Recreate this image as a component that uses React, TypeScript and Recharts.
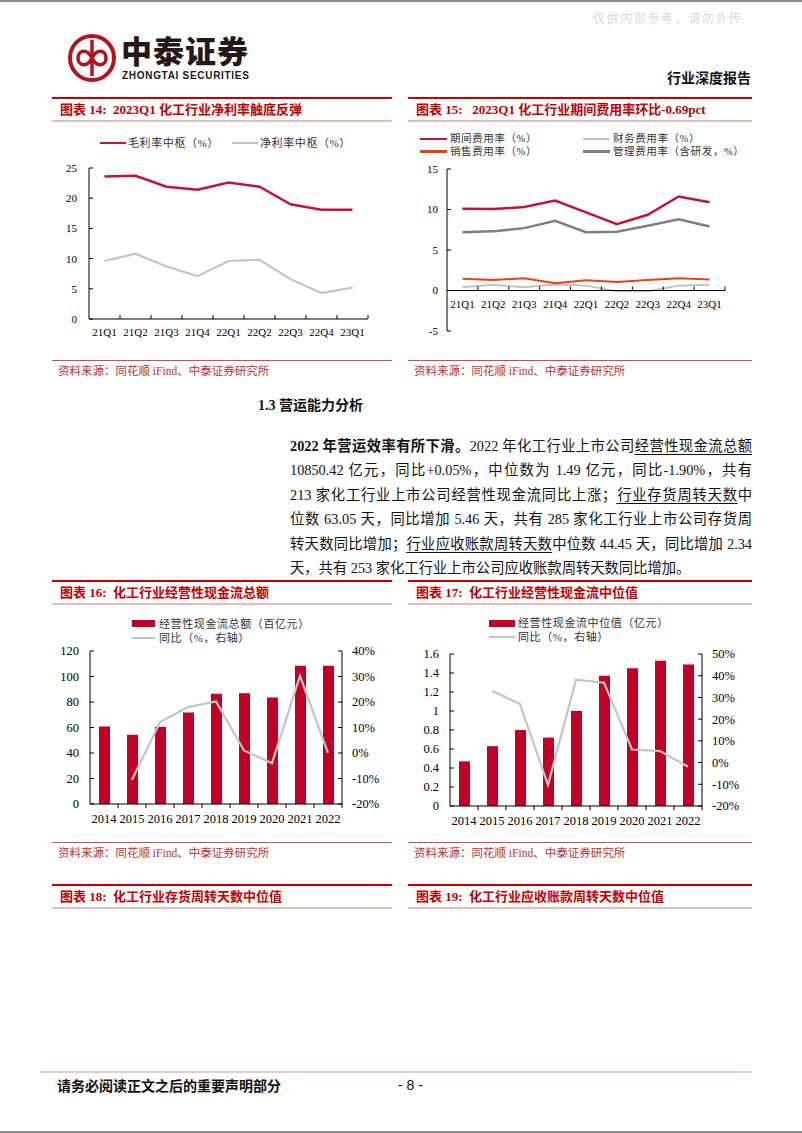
import React from 'react';
import { LineChart, Line, ComposedChart, Bar, XAxis, YAxis, ReferenceLine } from 'recharts';

// ---- data ----
const quarters = ['21Q1', '21Q2', '21Q3', '21Q4', '22Q1', '22Q2', '22Q3', '22Q4', '23Q1'];
const grossMargin = [23.6, 23.7, 21.9, 21.4, 22.6, 21.9, 19.0, 18.1, 18.1];
const netMargin = [9.6, 10.8, 8.7, 7.1, 9.6, 9.8, 6.6, 4.3, 5.2];

const periodExpense = [10.1, 10.05, 10.3, 11.1, 9.65, 8.2, 9.35, 11.6, 10.9];
const financeExpense = [0.4, 0.7, 0.4, 0.75, 0.6, -0.1, -0.1, 0.6, 0.7];
const salesExpense = [1.45, 1.3, 1.5, 0.9, 1.25, 1.05, 1.3, 1.5, 1.35];
const adminExpense = [7.2, 7.3, 7.7, 8.6, 7.2, 7.25, 8.0, 8.8, 7.9];

const years = ['2014', '2015', '2016', '2017', '2018', '2019', '2020', '2021', '2022'];
const cashTotal = [60.8, 54.3, 60.5, 71.7, 86.4, 86.9, 83.5, 108.5, 108.5];
const cashTotalYoy = [null, -10.5, 12.1, 18.0, 20.2, 1.0, -4.0, 30.2, 0.05];
const cashMedian = [0.47, 0.63, 0.8, 0.72, 1.0, 1.37, 1.45, 1.53, 1.49];
const cashMedianYoy = [null, 33.0, 27.0, -10.3, 38.2, 36.8, 6.0, 5.3, -1.9];

const ticks14 = [0, 5, 10, 15, 20, 25];
const ticks15 = [-5, 0, 5, 10, 15];
const ticks16L = [0, 20, 40, 60, 80, 100, 120];
const ticks16R = [-20, -10, 0, 10, 20, 30, 40];
const ticks17L = [0, 0.2, 0.4, 0.6, 0.8, 1, 1.2, 1.4, 1.6];
const ticks17R = [-20, -10, 0, 10, 20, 30, 40, 50];

const data14 = quarters.map((q, i) => ({ q, gross: grossMargin[i], net: netMargin[i] }));
const data15 = quarters.map((q, i) => ({
  q,
  period: periodExpense[i],
  finance: financeExpense[i],
  sales: salesExpense[i],
  admin: adminExpense[i],
}));
const data16 = years.map((y, i) => ({ y, v: cashTotal[i], yoy: cashTotalYoy[i] }));
const data17 = years.map((y, i) => ({ y, v: cashMedian[i], yoy: cashMedianYoy[i] }));

// ---- style ----
const SERIF = '"Liberation Serif", "Times New Roman", "Noto Sans CJK SC", serif';
const SANS = '"Liberation Sans", Arial, "Noto Sans CJK SC", sans-serif';
const CJK = '"Noto Sans CJK SC", sans-serif';
const RED = '#C00000';
const BAR_RED = '#C00026';
const LINE_RED = '#C0143C';
const LIGHT_GRAY = '#C4C4C4';

function BandTick(props: any) {
  const { x, y, payload, bw, lift = 0, dir, dy, fontSize } = props;
  const ay = y - lift;
  return (
    <g>
      <line x1={x + bw / 2} x2={x + bw / 2} y1={ay} y2={ay + dir * 4} stroke="#000" strokeWidth={1} />
      <text
        x={x}
        y={ay + dy}
        textAnchor="middle"
        dominantBaseline="central"
        fontSize={fontSize}
        fontFamily={SERIF}
        fill="#000"
      >
        {payload.value}
      </text>
    </g>
  );
}

function FigureHeader({ x, y, w, title }: { x: number; y: number; w: number; title: string }) {
  return (
    <>
      <div style={{ position: 'absolute', left: x, top: y - 1, width: w, height: 2, background: RED }} />
      <div
        style={{
          position: 'absolute',
          left: x + 8,
          top: y + 3,
          height: 18,
          lineHeight: '18px',
          fontSize: 13,
          fontWeight: 700,
          color: RED,
          fontFamily: SERIF,
          whiteSpace: 'pre',
        }}
      >
        {title}
      </div>
      <div style={{ position: 'absolute', left: x, top: y + 22, width: w, height: 1.5, background: '#DDBDBD' }} />
    </>
  );
}

function Source({ x, y, w }: { x: number; y: number; w: number }) {
  return (
    <>
      <div style={{ position: 'absolute', left: x, top: y, width: w, height: 1, background: '#C8505A' }} />
      <div
        style={{
          position: 'absolute',
          left: x + 6,
          top: y + 3,
          height: 16,
          lineHeight: '16px',
          fontSize: 11.5,
          color: '#B83232',
          fontFamily: SERIF,
          whiteSpace: 'pre',
        }}
      >
        资料来源：同花顺 iFind、中泰证券研究所
      </div>
    </>
  );
}

function LegendItem({
  x, y, label, color, kind, sw = 26, gap = 3, fontSize = 11,
}: {
  x: number; y: number; label: string; color: string; kind: 'line' | 'bar'; sw?: number; gap?: number; fontSize?: number;
}) {
  return (
    <div
      style={{
        position: 'absolute',
        left: x,
        top: y - 6,
        height: 12,
        lineHeight: '12px',
        display: 'flex',
        alignItems: 'center',
        whiteSpace: 'nowrap',
      }}
    >
      <span style={{ display: 'inline-block', width: sw, height: kind === 'bar' ? 7 : 2.5, background: color }} />
      <span style={{ marginLeft: gap, fontSize, letterSpacing: 0.6, fontFamily: SERIF, color: '#333', lineHeight: '12px' }}>
        {label}
      </span>
    </div>
  );
}

const para: (string | { b?: string; u?: string })[][] = [
  [{ b: '2022 年营运效率有所下滑。' }, '2022 年化工行业上市公司', { u: '经营性现金流总额' }],
  ['10850.42 亿元，同比+0.05%，中位数为 1.49 亿元，同比-1.90%，共有'],
  ['213 家化工行业上市公司经营性现金流同比上涨；', { u: '行业存货周转天数' }, '中'],
  ['位数 63.05 天，同比增加 5.46 天，共有 285 家化工行业上市公司存货周'],
  ['转天数同比增加；', { u: '行业应收账款周转天数' }, '中位数 44.45 天，同比增加 2.34'],
  ['天，共有 253 家化工行业上市公司应收账款周转天数同比增加。'],
];

// chart geometry
const P14 = { w: 340, h: 200, top: 13, right: 24, yw: 37, xh: 36 };
const bw14 = (P14.w - P14.yw - P14.right) / quarters.length;
const P15 = { w: 344, h: 200, top: 9, right: 27, yw: 39, xh: 29 };
const bw15 = (P15.w - P15.yw - P15.right) / quarters.length;
const plotH15 = P15.h - P15.top - P15.xh;
const lift15 = (plotH15 * (0 - ticks15[0])) / (ticks15[ticks15.length - 1] - ticks15[0]);
const P16 = { w: 340, h: 190, top: 6, yl: 38, yr: 50, xh: 31 };
const bw16 = (P16.w - P16.yl - P16.yr) / years.length;
const P17 = { w: 344, h: 190, top: 9, yl: 42, yr: 50, xh: 29 };
const bw17 = (P17.w - P17.yl - P17.yr) / years.length;

const axisStroke = { stroke: '#000' };

function Chart14() {
  return (
    <LineChart width={P14.w} height={P14.h} data={data14} margin={{ top: P14.top, right: P14.right, bottom: 0, left: 0 }}>
      <XAxis
        dataKey="q"
        scale="band"
        height={P14.xh}
        interval={0}
        axisLine={axisStroke}
        tickLine={false}
        tickSize={0}
        tickMargin={0}
        tick={(p: any) => <BandTick {...p} bw={bw14} dir={-1} dy={13} fontSize={11} />}
      />
      <YAxis
        domain={[0, 25]}
        ticks={ticks14}
        width={P14.yw}
        interval={0}
        axisLine={axisStroke}
        tickLine={axisStroke}
        tickSize={-4}
        tickMargin={16}
        tick={{ fill: '#000', fontSize: 11, fontFamily: SERIF }}
      />
      <Line dataKey="net" stroke={LIGHT_GRAY} strokeWidth={2.2} dot={false} isAnimationActive={false} />
      <Line dataKey="gross" stroke={LINE_RED} strokeWidth={2.5} dot={false} isAnimationActive={false} />
    </LineChart>
  );
}

function Chart15() {
  return (
    <LineChart width={P15.w} height={P15.h} data={data15} margin={{ top: P15.top, right: P15.right, bottom: 0, left: 0 }}>
      <XAxis
        dataKey="q"
        scale="band"
        height={P15.xh}
        interval={0}
        axisLine={false}
        tickLine={false}
        tickSize={0}
        tickMargin={0}
        tick={(p: any) => <BandTick {...p} bw={bw15} lift={lift15} dir={-1} dy={13} fontSize={11} />}
      />
      <YAxis
        domain={[-5, 15]}
        ticks={ticks15}
        width={P15.yw}
        interval={0}
        axisLine={axisStroke}
        tickLine={axisStroke}
        tickSize={-4}
        tickMargin={13}
        tick={{ fill: '#000', fontSize: 11, fontFamily: SERIF }}
      />
      <Line dataKey="finance" stroke={LIGHT_GRAY} strokeWidth={2} dot={false} isAnimationActive={false} />
      <Line dataKey="sales" stroke="#E8401A" strokeWidth={2} dot={false} isAnimationActive={false} />
      <Line dataKey="admin" stroke="#7F7F7F" strokeWidth={2.5} dot={false} isAnimationActive={false} />
      <Line dataKey="period" stroke={LINE_RED} strokeWidth={2.5} dot={false} isAnimationActive={false} />
      <ReferenceLine y={0} stroke="#000" strokeWidth={1} />
    </LineChart>
  );
}

function BarLineChart({
  data, P, bw, lDomain, lTicks, rDomain, rTicks,
}: {
  data: any[]; P: any; bw: number; lDomain: number[]; lTicks: number[]; rDomain: number[]; rTicks: number[];
}) {
  return (
    <ComposedChart width={P.w} height={P.h} data={data} margin={{ top: P.top, right: 0, bottom: 0, left: 0 }}>
      <XAxis
        dataKey="y"
        height={P.xh}
        interval={0}
        axisLine={axisStroke}
        tickLine={false}
        tickSize={0}
        tickMargin={0}
        tick={(p: any) => <BandTick {...p} bw={bw} dir={1} dy={15} fontSize={12.5} />}
      />
      <YAxis
        yAxisId="l"
        domain={lDomain}
        ticks={lTicks}
        width={P.yl}
        interval={0}
        axisLine={axisStroke}
        tickLine={axisStroke}
        tickSize={-4}
        tickMargin={15}
        tick={{ fill: '#000', fontSize: 12.5, fontFamily: SERIF }}
      />
      <YAxis
        yAxisId="r"
        orientation="right"
        domain={rDomain}
        ticks={rTicks}
        width={P.yr}
        interval={0}
        axisLine={axisStroke}
        tickLine={axisStroke}
        tickSize={-4}
        tickMargin={14}
        tickFormatter={(v: number) => `${v}%`}
        tick={{ fill: '#000', fontSize: 12.5, fontFamily: SERIF }}
      />
      <Bar yAxisId="l" dataKey="v" fill={BAR_RED} barSize={11} isAnimationActive={false} />
      <Line yAxisId="r" dataKey="yoy" stroke={LIGHT_GRAY} strokeWidth={2.2} dot={false} isAnimationActive={false} />
    </ComposedChart>
  );
}

function Logo() {
  return (
    <svg width={50} height={50} style={{ position: 'absolute', left: 67, top: 33 }} viewBox="0 0 50 50">
      <circle cx={25} cy={25} r={22} fill="none" stroke="#B5131C" strokeWidth={4} />
      <line x1={25} y1={7} x2={25} y2={43} stroke="#B5131C" strokeWidth={3.5} />
      <path d="M25 25 C 20 15, 11 17, 11 25 C 11 33, 20 35, 25 25 Z" fill="none" stroke="#B5131C" strokeWidth={3.5} />
      <path d="M25 25 C 30 15, 39 17, 39 25 C 39 33, 30 35, 25 25 Z" fill="none" stroke="#B5131C" strokeWidth={3.5} />
    </svg>
  );
}

export default function App() {
  const abs = (left: number, top: number): React.CSSProperties => ({ position: 'absolute', left, top });
  return (
    <div
      style={{
        position: 'absolute',
        left: 0,
        top: 0,
        width: 802,
        height: 1133,
        background: '#fff',
        overflow: 'hidden',
        fontFamily: SERIF,
      }}
    >
      <div style={{ position: 'absolute', left: 0, top: 0, width: 802, height: 1.5, background: '#8C8C8C' }} />
      <div style={{ position: 'absolute', left: 0, top: 1131, width: 802, height: 2, background: '#8C8C8C' }} />

      {/* watermark + header */}
      <div style={{ ...abs(593, 9), fontSize: 12, letterSpacing: 1.6, color: '#DADADA', fontFamily: CJK, whiteSpace: 'pre' }}>
        仅供内部参考，请勿外传
      </div>
      <Logo />
      <div
        style={{
          ...abs(121, 37),
          fontSize: 31,
          fontWeight: 900,
          color: '#231815',
          fontFamily: SANS,
          lineHeight: '31px',
          height: 31,
          letterSpacing: 1,
          whiteSpace: 'pre',
        }}
      >
        中泰证券
      </div>
      <div
        style={{
          ...abs(122, 71),
          fontSize: 10,
          fontWeight: 700,
          color: '#231815',
          fontFamily: SANS,
          lineHeight: '10px',
          height: 10,
          letterSpacing: 0.7,
          whiteSpace: 'pre',
        }}
      >
        ZHONGTAI SECURITIES
      </div>
      <div style={{ ...abs(667, 68), fontSize: 14, fontWeight: 700, color: '#111', fontFamily: CJK, lineHeight: '18px' }}>
        行业深度报告
      </div>

      {/* row 1 */}
      <FigureHeader x={52} y={98} w={340} title="图表 14:  2023Q1 化工行业净利率触底反弹" />
      <FigureHeader x={408} y={98} w={344} title="图表 15:   2023Q1 化工行业期间费用率环比-0.69pct" />

      <LegendItem x={100} y={143} label="毛利率中枢（%）" color={LINE_RED} kind="line" sw={26} gap={2} />
      <LegendItem x={232} y={143} label="净利率中枢（%）" color={LIGHT_GRAY} kind="line" sw={26} gap={2} />
      <div style={abs(52, 155)}>
        <Chart14 />
      </div>

      <LegendItem x={420} y={139} label="期间费用率（%）" color={LINE_RED} kind="line" sw={27} gap={3} fontSize={10.5} />
      <LegendItem x={583} y={139} label="财务费用率（%）" color={LIGHT_GRAY} kind="line" sw={27} gap={3} fontSize={10.5} />
      <LegendItem x={420} y={151.5} label="销售费用率（%）" color="#E8401A" kind="line" sw={27} gap={3} fontSize={10.5} />
      <LegendItem x={583} y={151.5} label="管理费用率（含研发，%）" color="#7F7F7F" kind="line" sw={27} gap={3} fontSize={10.5} />
      <div style={abs(408, 160)}>
        <Chart15 />
      </div>

      <Source x={52} y={360} w={340} />
      <Source x={408} y={360} w={344} />

      {/* section text */}
      <div style={{ ...abs(258, 397), fontSize: 14, fontWeight: 700, color: '#111', lineHeight: '18px', whiteSpace: 'pre' }}>
        1.3 营运能力分析
      </div>
      <div style={{ ...abs(290, 434), width: 462, fontSize: 14.3, color: '#111' }}>
        {para.map((line, i) => (
          <div
            key={i}
            style={{
              height: 24.4,
              lineHeight: '24.4px',
              whiteSpace: 'nowrap',
              textAlign: i < para.length - 1 ? 'justify' : 'left',
              textAlignLast: i < para.length - 1 ? 'justify' : 'left',
            }}
          >
            {line.map((seg, j) =>
              typeof seg === 'string' ? (
                <span key={j}>{seg}</span>
              ) : seg.b ? (
                <b key={j}>{seg.b}</b>
              ) : (
                <span key={j} style={{ textDecoration: 'underline', textUnderlineOffset: 3 }}>
                  {seg.u}
                </span>
              ),
            )}
          </div>
        ))}
      </div>

      {/* row 2 */}
      <FigureHeader x={52} y={581} w={340} title="图表 16:  化工行业经营性现金流总额" />
      <FigureHeader x={408} y={581} w={344} title="图表 17:  化工行业经营性现金流中位值" />

      <LegendItem x={132} y={623.5} label="经营性现金流总额（百亿元）" color={BAR_RED} kind="bar" sw={23} gap={4} />
      <LegendItem x={132} y={638} label="同比（%，右轴）" color={LIGHT_GRAY} kind="line" sw={23} gap={4} />
      <div style={abs(52, 645)}>
        <BarLineChart data={data16} P={P16} bw={bw16} lDomain={[0, 120]} lTicks={ticks16L} rDomain={[-20, 40]} rTicks={ticks16R} />
      </div>

      <LegendItem x={489} y={623} label="经营性现金流中位值（亿元）" color={BAR_RED} kind="bar" sw={26} gap={3} />
      <LegendItem x={489} y={637} label="同比（%，右轴）" color={LIGHT_GRAY} kind="line" sw={26} gap={3} />
      <div style={abs(408, 645)}>
        <BarLineChart data={data17} P={P17} bw={bw17} lDomain={[0, 1.6]} lTicks={ticks17L} rDomain={[-20, 50]} rTicks={ticks17R} />
      </div>

      <Source x={52} y={842} w={340} />
      <Source x={408} y={842} w={344} />

      {/* row 3 headers */}
      <FigureHeader x={52} y={885} w={340} title="图表 18:  化工行业存货周转天数中位值" />
      <FigureHeader x={408} y={885} w={344} title="图表 19:  化工行业应收账款周转天数中位值" />

      {/* footer */}
      <div style={{ position: 'absolute', left: 40, top: 1071, width: 712, height: 1.5, background: '#E2CFC8' }} />
      <div style={{ ...abs(57, 1076), fontSize: 14, fontWeight: 700, color: '#111', fontFamily: CJK, lineHeight: '18px' }}>
        请务必阅读正文之后的重要声明部分
      </div>
      <div style={{ ...abs(398, 1076), fontSize: 14, color: '#111', fontFamily: SANS, lineHeight: '18px', whiteSpace: 'pre' }}>
        - 8 -
      </div>
    </div>
  );
}
